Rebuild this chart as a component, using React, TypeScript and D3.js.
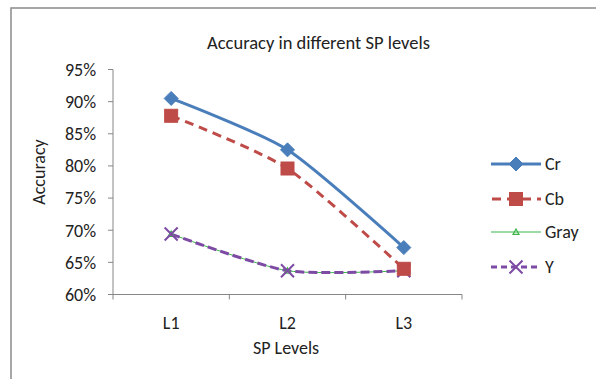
import React from "react";
import * as d3 from "d3";

const categories = ["L1", "L2", "L3"];
const crValues = [90.5, 82.5, 67.3];
const cbValues = [87.8, 79.6, 64.0];
const grayValues = [69.4, 63.7, 63.7];
const yValues = [69.4, 63.7, 63.7];
const yTicks = [60, 65, 70, 75, 80, 85, 90, 95];
const seriesNames = ["Cr", "Cb", "Gray", "Y"];

const W = 596;
const H = 379;
const plot = { left: 113, right: 462, top: 69.5, bottom: 294.5 };
const FONT = "Carlito, Calibri, 'Liberation Sans', Arial, sans-serif";

export default function App() {
  const x = d3.scaleBand().domain(categories).range([plot.left, plot.right]);
  const y = d3.scaleLinear().domain([60, 95]).range([plot.bottom, plot.top]);
  const cx = (c: string) => (x(c) as number) + x.bandwidth() / 2;

  const line = d3
    .line<[number, number]>()
    .x((d) => d[0])
    .y((d) => d[1])
    .curve(d3.curveCardinal.tension(0.3));

  const pts = (vals: number[]) => categories.map((c, i) => [cx(c), y(vals[i])] as [number, number]);

  const blue = "#4A7EBB";
  const red = "#BE4B48";
  const green = "#3CB54A";
  const purple = "#7D4BA3";
  const textCol = "#222";

  const diamond = (px: number, py: number, key: string, s = 7) => (
    <path key={key} d={`M${px},${py - s}L${px + s},${py}L${px},${py + s}L${px - s},${py}Z`} fill={blue} stroke={blue} strokeWidth={1} />
  );
  const square = (px: number, py: number, key: string, s = 6.5) => (
    <rect key={key} x={px - s} y={py - s} width={2 * s} height={2 * s} fill={red} stroke={red} strokeWidth={1} />
  );
  const tri = (px: number, py: number, key: string, s = 3) => (
    <path key={key} d={`M${px},${py - s}L${px + s},${py + s * 0.8}L${px - s},${py + s * 0.8}Z`} fill="none" stroke={green} strokeWidth={1.2} />
  );
  const cross = (px: number, py: number, key: string, s = 6.5) => (
    <path key={key} d={`M${px - s},${py - s}L${px + s},${py + s}M${px + s},${py - s}L${px - s},${py + s}`} stroke={purple} strokeWidth={2} fill="none" />
  );

  const legendY = [164, 199, 232, 267];
  const lx0 = 491;
  const lx1 = 541;
  const lmx = 516;

  return (
    <svg width={W} height={H} style={{ position: "absolute", left: 0, top: 0, background: "#fff" }}>
      <rect x={0} y={0} width={W} height={H} fill="#fff" />
      <path d={`M11,${H}L11,8L${W},8`} fill="none" stroke="#8a8a8a" strokeWidth={1.5} />

      <text x={318.5} y={49} textAnchor="middle" fontFamily={FONT} fontSize={18.5} fill={textCol}>
        Accuracy in different  SP levels
      </text>

      {/* axes */}
      <line x1={plot.left} x2={plot.left} y1={plot.top} y2={plot.bottom} stroke="#868686" strokeWidth={1} />
      <line x1={plot.left} x2={plot.right} y1={plot.bottom} y2={plot.bottom} stroke="#868686" strokeWidth={1} />
      {yTicks.map((t) => (
        <g key={t}>
          <line x1={plot.left - 5} x2={plot.left} y1={y(t)} y2={y(t)} stroke="#868686" />
          <text x={96} y={y(t)} dy="0.35em" textAnchor="end" fontFamily={FONT} fontSize={18} fill={textCol}>
            {t}%
          </text>
        </g>
      ))}
      {[...categories.map((c) => x(c) as number), plot.right].map((v, i) => (
        <line key={i} x1={v} x2={v} y1={plot.bottom} y2={plot.bottom + 5} stroke="#868686" />
      ))}
      {categories.map((c) => (
        <text key={c} x={cx(c)} y={322.5} dy="0.35em" textAnchor="middle" fontFamily={FONT} fontSize={18} fill={textCol}>
          {c}
        </text>
      ))}
      <text x={286} y={348} dy="0.35em" textAnchor="middle" fontFamily={FONT} fontSize={18} fill={textCol}>
        SP Levels
      </text>
      <text transform="translate(39,172) rotate(-90)" dy="0.35em" textAnchor="middle" fontFamily={FONT} fontSize={18} fill={textCol}>
        Accuracy
      </text>

      {/* series */}
      <path d={line(pts(grayValues)) || ""} fill="none" stroke={green} strokeWidth={1} />
      <path d={line(pts(yValues)) || ""} fill="none" stroke={purple} strokeWidth={3} strokeDasharray="9,4" />
      <path d={line(pts(cbValues)) || ""} fill="none" stroke={red} strokeWidth={3} strokeDasharray="9,6" />
      <path d={line(pts(crValues)) || ""} fill="none" stroke={blue} strokeWidth={3} />
      {pts(grayValues).map((p, i) => tri(p[0], p[1], "g" + i))}
      {pts(yValues).map((p, i) => cross(p[0], p[1], "y" + i))}
      {pts(cbValues).map((p, i) => square(p[0], p[1], "b" + i))}
      {pts(crValues).map((p, i) => diamond(p[0], p[1], "r" + i))}

      {/* legend */}
      <line x1={lx0} x2={lx1} y1={legendY[0]} y2={legendY[0]} stroke={blue} strokeWidth={3} />
      {diamond(lmx, legendY[0], "ld")}
      <line x1={lx0} x2={lx1} y1={legendY[1]} y2={legendY[1]} stroke={red} strokeWidth={3} strokeDasharray="9,6" strokeDashoffset={-1} />
      {square(lmx, legendY[1], "ls")}
      <line x1={lx0} x2={lx1} y1={legendY[2]} y2={legendY[2]} stroke={green} strokeWidth={1} />
      {tri(lmx, legendY[2], "lt")}
      <line x1={lx0} x2={lx1} y1={legendY[3]} y2={legendY[3]} stroke={purple} strokeWidth={3} strokeDasharray="6,4" />
      {cross(lmx, legendY[3], "lc")}
      {seriesNames.map((n, i) => (
        <text key={n} x={545} y={legendY[i]} dy="0.35em" fontFamily={FONT} fontSize={18} fill={textCol}>
          {n}
        </text>
      ))}
    </svg>
  );
}
